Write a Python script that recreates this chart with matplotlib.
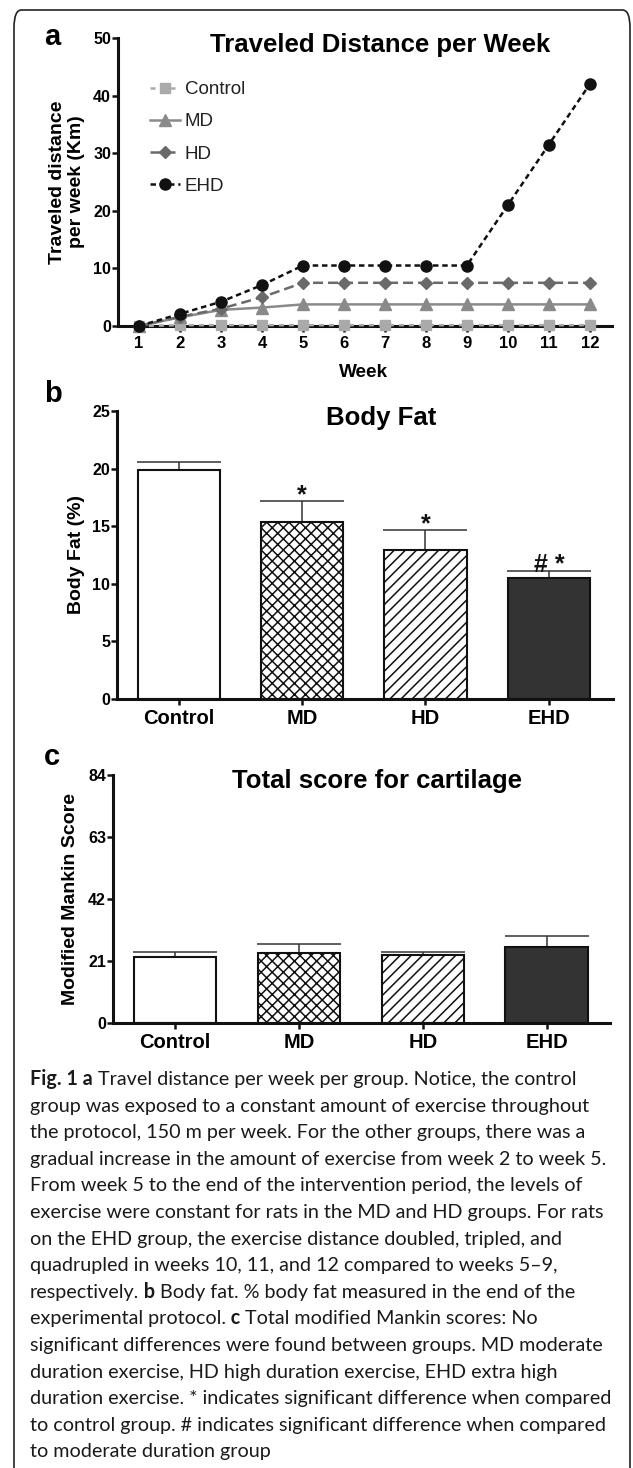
import numpy as np
import matplotlib
matplotlib.use("Agg")
import matplotlib.pyplot as plt
from matplotlib.patches import FancyBboxPatch

# ---- data ----
weeks = [1, 2, 3, 4, 5, 6, 7, 8, 9, 10, 11, 12]
control_km = [0.0, 0.15, 0.15, 0.15, 0.15, 0.15, 0.15, 0.15, 0.15, 0.15, 0.15, 0.15]
md_km = [0.0, 1.5, 2.8, 3.2, 3.75, 3.75, 3.75, 3.75, 3.75, 3.75, 3.75, 3.75]
hd_km = [0.0, 1.6, 3.0, 5.0, 7.5, 7.5, 7.5, 7.5, 7.5, 7.5, 7.5, 7.5]
ehd_km = [0.0, 2.1, 4.2, 7.1, 10.5, 10.5, 10.5, 10.5, 10.5, 21.0, 31.5, 42.0]

groups = ["Control", "MD", "HD", "EHD"]
body_fat = [19.9, 15.35, 12.9, 10.5]
body_fat_err = [0.7, 1.85, 1.75, 0.65]
body_fat_sig = ["", "*", "*", "# *"]
mankin = [22.4, 23.8, 23.0, 25.9]
mankin_err = [1.6, 3.0, 1.2, 3.6]

bar_face = ["white", "white", "white", "#333333"]
bar_hatch = [None, "xxx", "///", None]

caption = [
    [("Fig. 1 a", True), (" Travel distance per week per group. Notice, the control", False)],
    [("group was exposed to a constant amount of exercise throughout", False)],
    [("the protocol, 150 m per week. For the other groups, there was a", False)],
    [("gradual increase in the amount of exercise from week 2 to week 5.", False)],
    [("From week 5 to the end of the intervention period, the levels of", False)],
    [("exercise were constant for rats in the MD and HD groups. For rats", False)],
    [("on the EHD group, the exercise distance doubled, tripled, and", False)],
    [("quadrupled in weeks 10, 11, and 12 compared to weeks 5\u20139,", False)],
    [("respectively.", False), (" b", True), (" Body fat. % body fat measured in the end of the", False)],
    [("experimental protocol.", False), (" c", True), (" Total modified Mankin scores: No", False)],
    [("significant differences were found between groups. MD moderate", False)],
    [("duration exercise, HD high duration exercise, EHD extra high", False)],
    [("duration exercise. * indicates significant difference when compared", False)],
    [("to control group. # indicates significant difference when compared", False)],
    [("to moderate duration group", False)],
]

plt.rcParams["font.family"] = ["Liberation Sans", "DejaVu Sans"]
plt.rcParams["hatch.linewidth"] = 1.1

W, H = 633, 1468
fig = plt.figure(figsize=(W / 100, H / 100), dpi=100)


def rect(l, t, r, b):
    return [l / W, 1 - b / H, (r - l) / W, (b - t) / H]


def fpos(x, y):
    return x / W, 1 - y / H


def style_axes(ax, ticksize):
    for s in ["top", "right"]:
        ax.spines[s].set_visible(False)
    for s in ["left", "bottom"]:
        ax.spines[s].set_linewidth(2.2)
        ax.spines[s].set_color("#111111")
    ax.tick_params(axis="both", direction="out", length=4, width=1.8, color="#111111")
    ax.tick_params(axis="y", pad=1, labelsize=11.5)
    ax.tick_params(axis="x", pad=3, labelsize=ticksize)
    for lab in ax.get_xticklabels() + ax.get_yticklabels():
        lab.set_fontweight("bold")


# outer rounded frame
frame = FancyBboxPatch((14 / W, -0.05), (630 - 14) / W, (H - 10) / H + 0.05,
                       boxstyle="round,pad=0,rounding_size=0.012",
                       transform=fig.transFigure, fill=False, lw=1.2, ec="#222222")
fig.patches.append(frame)

# ---- panel a ----
axa = fig.add_axes(rect(118, 38, 612, 326))
lw = 1.8
axa.plot(weeks, control_km, color="#aaaaaa", lw=lw, ls=(0, (2, 2)), marker="s", ms=7,
         clip_on=False, label="Control", zorder=3)
axa.plot(weeks, md_km, color="#8a8a8a", lw=lw, ls="-", marker="^", ms=9,
         clip_on=False, label="MD", zorder=4)
axa.plot(weeks, hd_km, color="#6a6a6a", lw=lw, ls=(0, (4, 2)), marker="D", ms=6.5,
         clip_on=False, label="HD", zorder=5)
axa.plot(weeks, ehd_km, color="#111111", lw=lw, ls=(0, (2.2, 1.5)), marker="o", ms=8,
         clip_on=False, label="EHD", zorder=6)
axa.set_xlim(0.49, 12.54)
axa.set_ylim(0, 50)
axa.set_xticks(weeks)
axa.set_yticks([0, 10, 20, 30, 40, 50])
style_axes(axa, 12)
axa.set_ylabel("Traveled distance\nper week (Km)", fontsize=14, fontweight="bold",
               va="center", linespacing=1.2)
axa.yaxis.set_label_coords(-0.103, 0.5)
axa.set_xlabel("Week", fontsize=13.7, fontweight="bold", va="center")
axa.xaxis.set_label_coords(0.498, -0.16)
leg = axa.legend(loc="upper left", bbox_to_anchor=(0.065, 0.85), frameon=False,
                 fontsize=13.5, handlelength=1.6, handletextpad=0.25, labelspacing=0.8,
                 borderpad=0, borderaxespad=0)
for t in leg.get_texts():
    t.set_color("#222222")
fig.text(*fpos(380, 52), "Traveled Distance per Week", fontsize=18.5, fontweight="bold",
         ha="center", va="baseline")
fig.text(*fpos(44, 45), "a", fontsize=21, fontweight="bold", ha="left", va="baseline")


# ---- bar panels ----
def bar_panel(ax, vals, errs, ylim, yticks, ylabel, labx):
    x = np.arange(len(groups))
    ax.errorbar(x, vals, yerr=[np.zeros(len(vals)), errs], fmt="none", ecolor="#333333",
                elinewidth=1.1, capsize=30, capthick=1.1, zorder=1)
    for i in range(len(groups)):
        ax.bar(x[i], vals[i], width=0.667, color=bar_face[i], edgecolor="#111111",
               linewidth=1.5, hatch=bar_hatch[i], zorder=2)
    ax.set_ylim(*ylim)
    ax.set_yticks(yticks)
    ax.set_xticks(x)
    ax.set_xticklabels(groups)
    style_axes(ax, 14.5)
    ax.set_ylabel(ylabel, fontsize=14, fontweight="bold", va="center")
    ax.yaxis.set_label_coords(labx, 0.5)
    return x


axb = fig.add_axes(rect(117, 411, 613, 699))
axb.set_xlim(-0.5, 3.52)
xb = bar_panel(axb, body_fat, body_fat_err, (0, 25), [0, 5, 10, 15, 20, 25], "Body Fat (%)", -0.081)
for i, s in enumerate(body_fat_sig):
    if s:
        axb.annotate(s, xy=(xb[i], body_fat[i] + body_fat_err[i]), xytext=(0, -1),
                     textcoords="offset points", ha="center", va="baseline",
                     fontsize=18, fontweight="bold", color="#111111")
fig.text(*fpos(381, 425), "Body Fat", fontsize=18.5, fontweight="bold", ha="center", va="baseline")
fig.text(*fpos(44, 402), "b", fontsize=21, fontweight="bold", ha="left", va="baseline")

axc = fig.add_axes(rect(113, 775, 610, 1023))
axc.set_xlim(-0.5, 3.51)
bar_panel(axc, mankin, mankin_err, (0, 84), [0, 21, 42, 63, 84], "Modified Mankin Score", -0.0865)
fig.text(*fpos(377, 788), "Total score for cartilage", fontsize=18.5, fontweight="bold",
         ha="center", va="baseline")
fig.text(*fpos(44, 765), "c", fontsize=21, fontweight="bold", ha="left", va="baseline")

# ---- caption ----
renderer = fig.canvas.get_renderer()
cap_font = ["Lato", "DejaVu Sans"]
for i, line in enumerate(caption):
    x = 30.0
    y = 1085 + 26.6 * i
    for txt, bold in line:
        t = fig.text(*fpos(x, y), txt, fontsize=14.2, family=cap_font,
                     fontweight="bold" if bold else "normal", color="#1a1a1a",
                     ha="left", va="baseline")
        x += t.get_window_extent(renderer).width

fig.savefig("out.png", dpi=100)
